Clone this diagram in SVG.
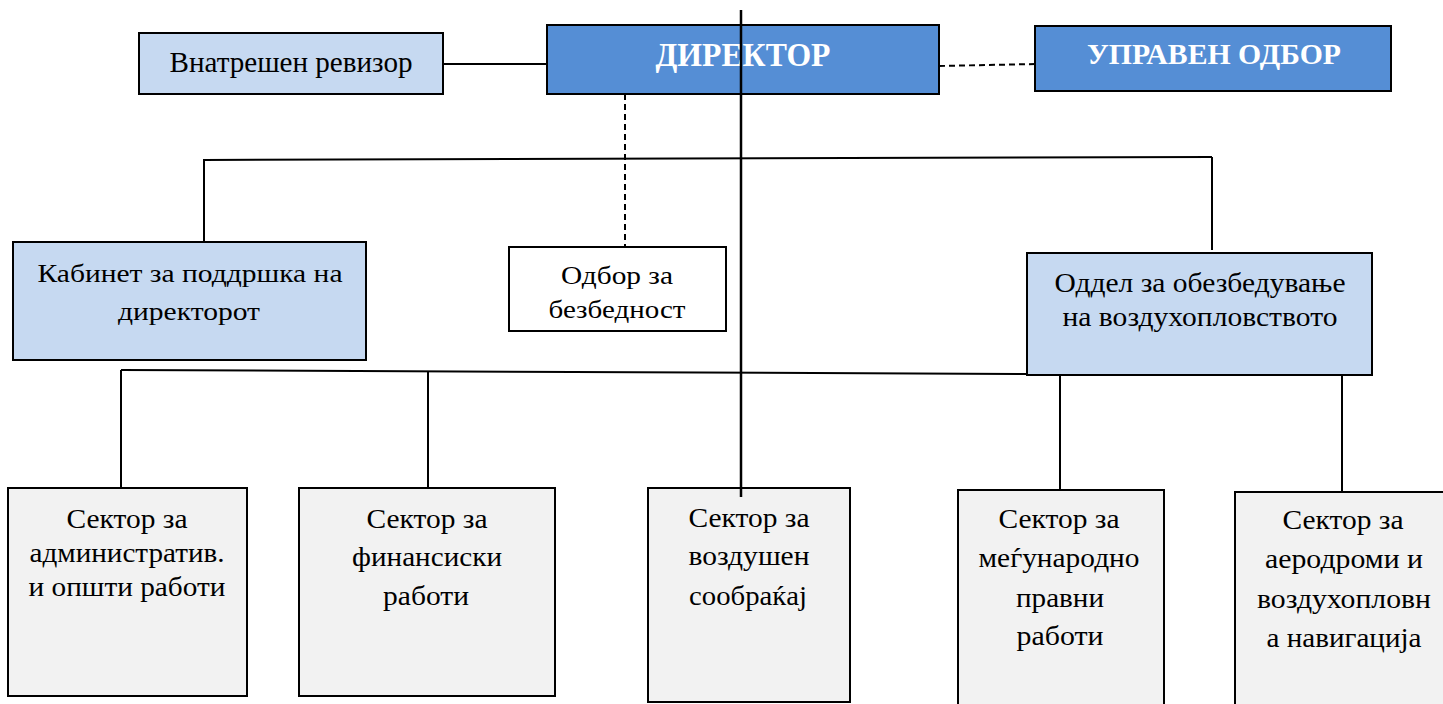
<svg xmlns="http://www.w3.org/2000/svg" width="1443" height="704" viewBox="0 0 1443 704">
<style>
.box{stroke:#000;stroke-width:2}
.dark{fill:#558ED5}
.light{fill:#C6D9F1}
.white{fill:#FFFFFF}
.gray{fill:#F2F2F2}
.t{font-family:"Liberation Serif","Times New Roman",serif;font-size:28px;fill:#000;text-anchor:middle}
.tb{font-family:"Liberation Serif","Times New Roman",serif;font-size:33px;font-weight:bold;fill:#fff;text-anchor:middle}
.c{stroke:#000;stroke-width:2;fill:none}
.d{stroke:#000;stroke-width:2;fill:none;stroke-dasharray:6,4}
</style>
<rect width="1443" height="704" fill="#fff"/>
<g id="connectors">
<line class="c" x1="443" y1="64" x2="547" y2="64"/>
<line class="d" x1="939" y1="66" x2="1035" y2="64"/>
<line class="d" x1="625" y1="94" x2="625" y2="247"/>
<line class="c" x1="204" y1="160" x2="1212" y2="157"/>
<line class="c" x1="204" y1="159" x2="204" y2="242"/>
<line class="c" x1="1212" y1="157" x2="1212" y2="250"/>
<line class="c" x1="121" y1="370" x2="1027" y2="374"/>
<line class="c" x1="121" y1="370" x2="121" y2="488"/>
<line class="c" x1="428" y1="371" x2="428" y2="488"/>
<line class="c" x1="1060" y1="375" x2="1060" y2="490"/>
<line class="c" x1="1342" y1="375" x2="1342" y2="492"/>
</g>
<g id="revizor"><rect class="box light" x="139" y="33" width="304" height="61"/><text class="t" x="291" y="72" style="font-size:30px" textLength="243" lengthAdjust="spacingAndGlyphs">Внатрешен ревизор</text></g>
<g id="direktor"><rect class="box dark" x="547" y="25" width="392" height="69"/><text class="tb" x="743" y="66" textLength="175" lengthAdjust="spacingAndGlyphs">ДИРЕКТОР</text></g>
<g id="odbor"><rect class="box dark" x="1035" y="26" width="356" height="65"/><text class="tb" x="1214" y="64" style="font-size:30px" textLength="254" lengthAdjust="spacingAndGlyphs">УПРАВЕН ОДБОР</text></g>
<g id="kabinet"><rect class="box light" x="13" y="242" width="353" height="118"/><text class="t" x="190" y="282" style="font-size:25px" textLength="305" lengthAdjust="spacingAndGlyphs">Кабинет за поддршка на</text><text class="t" x="189" y="320" style="font-size:25px" textLength="142" lengthAdjust="spacingAndGlyphs">директорот</text></g>
<g id="bezbednost"><rect class="box white" x="509" y="247" width="217" height="84"/><text class="t" x="617" y="284" style="font-size:26px" textLength="112" lengthAdjust="spacingAndGlyphs">Одбор за</text><text class="t" x="617" y="318" style="font-size:26px" textLength="137" lengthAdjust="spacingAndGlyphs">безбедност</text></g>
<g id="oddel"><rect class="box light" x="1027" y="253" width="345" height="122"/><text class="t" x="1200" y="292" style="font-size:27px" textLength="291" lengthAdjust="spacingAndGlyphs">Оддел за обезбедување</text><text class="t" x="1200" y="326" style="font-size:27px" textLength="275" lengthAdjust="spacingAndGlyphs">на воздухопловството</text></g>
<g id="s1"><rect class="box gray" x="8" y="488" width="239" height="208"/><text class="t" x="127" y="528" textLength="121" lengthAdjust="spacingAndGlyphs">Сектор за</text><text class="t" x="127" y="562" textLength="195" lengthAdjust="spacingAndGlyphs">административ.</text><text class="t" x="127" y="596" textLength="197" lengthAdjust="spacingAndGlyphs">и општи работи</text></g>
<g id="s2"><rect class="box gray" x="299" y="488" width="256" height="208"/><text class="t" x="427" y="528" textLength="121" lengthAdjust="spacingAndGlyphs">Сектор за</text><text class="t" x="427" y="566" textLength="150" lengthAdjust="spacingAndGlyphs">финансиски</text><text class="t" x="426" y="605" textLength="86" lengthAdjust="spacingAndGlyphs">работи</text></g>
<g id="s3"><rect class="box gray" x="648" y="488" width="202" height="214"/><text class="t" x="749" y="527" textLength="121" lengthAdjust="spacingAndGlyphs">Сектор за</text><text class="t" x="749" y="565" textLength="121" lengthAdjust="spacingAndGlyphs">воздушен</text><text class="t" x="748" y="605" textLength="118" lengthAdjust="spacingAndGlyphs">сообраќај</text></g>
<g id="s4"><rect class="box gray" x="958" y="490" width="206" height="216"/><text class="t" x="1059" y="528" textLength="121" lengthAdjust="spacingAndGlyphs">Сектор за</text><text class="t" x="1059" y="567" textLength="161" lengthAdjust="spacingAndGlyphs">меѓународно</text><text class="t" x="1060" y="607" textLength="88" lengthAdjust="spacingAndGlyphs">правни</text><text class="t" x="1060" y="645" textLength="87" lengthAdjust="spacingAndGlyphs">работи</text></g>
<g id="s5"><rect class="box gray" x="1235" y="492" width="210" height="214"/><text class="t" x="1343" y="529" textLength="121" lengthAdjust="spacingAndGlyphs">Сектор за</text><text class="t" x="1344" y="568" textLength="158" lengthAdjust="spacingAndGlyphs">аеродроми и</text><text class="t" x="1344" y="608" textLength="174" lengthAdjust="spacingAndGlyphs">воздухопловн</text><text class="t" x="1344" y="647" textLength="155" lengthAdjust="spacingAndGlyphs">а навигација</text></g>
<line class="c" x1="741" y1="10" x2="741" y2="497" style="stroke-width:2.5"/>
</svg>
